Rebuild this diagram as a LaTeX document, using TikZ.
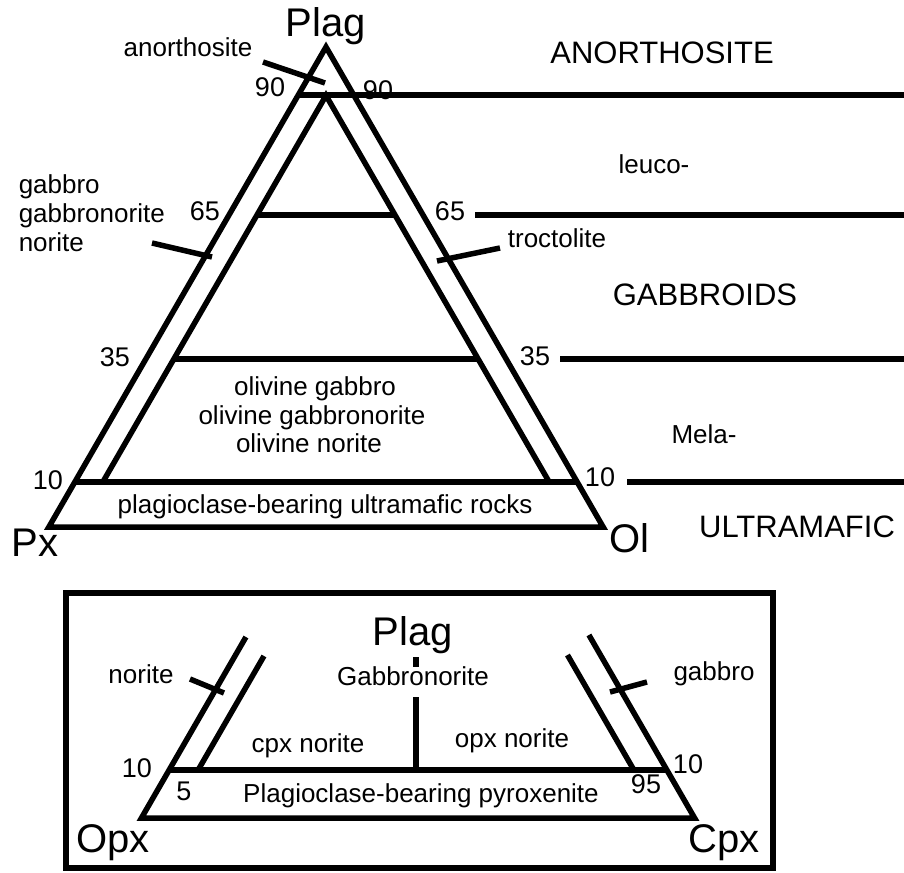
\documentclass[tikz,border=0pt]{standalone}
\usepackage{fontspec}
\setmainfont{Liberation Sans}
\usepackage{tikz}
\usetikzlibrary{calc}

\begin{document}
\begin{tikzpicture}[x=1pt,y=-1pt,line width=5.5pt,
						every node/.style = {inner sep=0pt,anchor=base,font=\fontsize{26}{29}\selectfont},
						num/.style = {font=\fontsize{27}{30}\selectfont},
						big/.style = {font=\fontsize{40}{44}\selectfont},
						group/.style = {font=\fontsize{31}{34}\selectfont},
						declare function = {
							outl(\y) = 326-0.5774*(\y-47);
							outr(\y) = 326+0.5774*(\y-47);
							inl(\y) = outl(\y)+28;
							inr(\y) = outr(\y)-28;
							lowl(\y) = 418-0.5774*(\y-339);
							lowr(\y) = 418+0.5774*(\y-339);
						}]

					\useasboundingbox (0,0) rectangle (904,872);

					\coordinate (plag) at (326,47);
					\coordinate (px) at ({outl(527)},527);
					\coordinate (ol) at ({outr(527)},527);
					\coordinate (top) at (326,95.5);

					\draw (px) -- (plag) -- (ol) -- cycle;
					\draw ({inl(482)},482) -- (top) -- ({inr(482)},482);
					\draw ({outl(482)},482) -- ({outr(482)},482);
					\draw ({inl(359)},359) -- ({inr(359)},359);
					\draw ({inl(215)},215) -- ({inr(215)},215);

					\draw ({outl(95)},95) -- (904,95);
					\draw (475,215) -- (904,215);
					\draw (560,359) -- (904,359);
					\draw (627,482) -- (904,482);

					\coordinate (ta1) at (263,62);   \coordinate (ta2) at (325,83);
					\coordinate (tg1) at (152,243);  \coordinate (tg2) at (212,257);
					\coordinate (tt1) at (437,261);  \coordinate (tt2) at (500,248);
					\draw (ta1) -- (ta2);
					\draw (tg1) -- (tg2);
					\draw (tt1) -- (tt2);

					\node[big] (lplag) at (326,37) {Plag};
					\node[big] (lpx) at (35,556) {Px};
					\node[big] (lol) at (629,552) {Ol};

					\node (lanor) at (188,57) {anorthosite};
					\node[num] (n90l) at (270,97) {90};
					\node[num] (n90r) at (378,100) {90};
					\node[num] (n65l) at (205,220) {65};
					\node[num] (n35l) at (115,366) {35};
					\node[num] (n10l) at (48,489) {10};
					\node[num] (n65r) at (450,220) {65};
					\node[num] (n35r) at (535,365) {35};
					\node[num] (n10r) at (600,486) {10};

					\node[anchor=base west] (lgab) at (16,193) {gabbro};
					\node[anchor=base west] (lgabn) at (16,222) {gabbronorite};
					\node[anchor=base west] (lnor) at (16,251) {norite};
					\node (ltroc) at (557,247) {troctolite};

					\node (lolg) at (315,395) {olivine gabbro};
					\node (lolgn) at (312,424) {olivine gabbronorite};
					\node (loln) at (309,452) {olivine norite};
					\node (lum) at (325,513) {plagioclase-bearing ultramafic rocks};

					\node[group] (ganor) at (662,64) {ANORTHOSITE};
					\node (gleu) at (654,173) {leuco-};
					\node[group] (ggab) at (705,305) {GABBROIDS};
					\node (gmel) at (704,443) {Mela-};
					\node[group] (gum) at (797,537) {ULTRAMAFIC};

					\draw (66,593) rectangle (773,868);

					\coordinate (opx) at ({lowl(818)},818);
					\coordinate (cpx) at ({lowr(818)},818);
					\draw ({lowl(637)},637) -- (opx) -- (cpx) -- ({lowr(635)},635);
					\draw ({lowl(656)+29},656) -- ({lowl(770)+29},770);
					\draw ({lowr(655)-33},655) -- ({lowr(770)-33},770);
					\draw ({lowl(770)},770) -- ({lowr(770)},770);
					\draw (416,657) -- (416,667);
					\draw (416,697) -- (416,770);

					\coordinate (tn1) at (190,679);  \coordinate (tn2) at (224,693);
					\coordinate (tb1) at (610,692);  \coordinate (tb2) at (647,682);
					\draw (tn1) -- (tn2);
					\draw (tb1) -- (tb2);

					\node[big] (bplag) at (413,645) {Plag};
					\node (bgabn) at (413,685) {Gabbronorite};
					\node (bnor) at (141,683) {norite};
					\node (bgab) at (714,680) {gabbro};
					\node (bcpx) at (308,752) {cpx norite};
					\node (bopx) at (512,747) {opx norite};
					\node[num] (b10l) at (137,777) {10};
					\node[num] (b5) at (184,800) {5};
					\node (bpyr) at (421,802) {Plagioclase-bearing pyroxenite};
					\node[num] (b95) at (646,793) {95};
					\node[num] (b10r) at (688,773) {10};
					\node[big] (lopx) at (113,852) {Opx};
					\node[big] (lcpx) at (724,852) {Cpx};

				\end{tikzpicture}
\end{document}
